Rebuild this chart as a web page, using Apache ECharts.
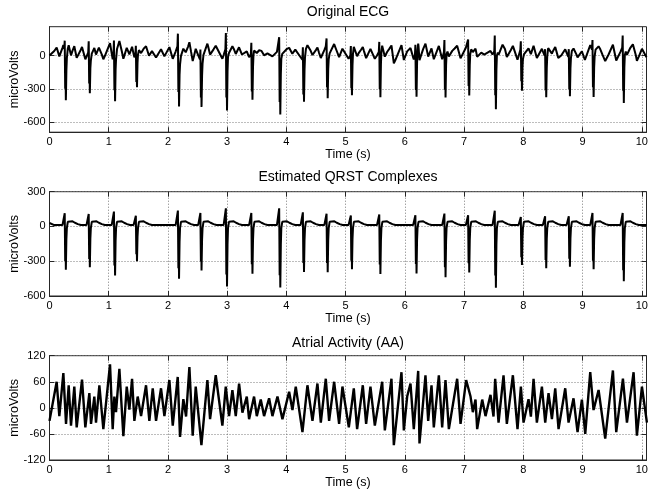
<!DOCTYPE html>
<html><head><meta charset="utf-8">
<script src="https://cdn.jsdelivr.net/npm/echarts@6/dist/echarts.min.js"></script>
<style>html,body{margin:0;padding:0;background:#fff}#c{width:648px;height:495px}</style>
</head><body><div id="c"></div>
<script>
// ---- data ----
const titles = ['Original ECG', 'Estimated QRST Complexes', 'Atrial Activity (AA)'];
const xTicks = [0,1,2,3,4,5,6,7,8,9,10];
const ecgTicks = [-600,-300,0];
const qrstTicks = [-600,-300,0,300];
const aaTicks = [-120,-60,0,60,120];

// QRST complexes: beat times (s), R peak and S trough (microVolts)
const beatTimes = [0.279,0.684,1.11,1.48,2.19,2.57,3.0,3.43,3.90,4.30,4.70,5.11,5.59,6.20,6.69,7.09,7.54,7.98,8.39,8.79,9.19,9.70];
const beatR = [114,108,128,93,137,117,157,117,157,122,110,94,103,97,111,97,136,81,89,89,117,117];
const beatS = [-373,-352,-422,-300,-451,-379,-518,-408,-527,-393,-395,-369,-411,-406,-439,-397,-528,-333,-361,-347,-369,-472];
const qrstBase = 12;
// beat shape: offset (s) and kind of value
const shapeOffsets = [-0.06,-0.03,-0.022,-0.014,-0.008,-0.003,0.006,0.014,0.03,0.11,0.15,0.2,0.25];
const shapeKinds   = ['b','b+6','R','0.8S','0.35S','S','0.3S','-15','b+28','b+32','b+20','b+8','b'];

// Atrial activity: extrema times (s) and values (microVolts)
const aaTimes = [0.00,0.121,0.166,0.234,0.279,0.324,0.363,0.419,0.459,0.549,0.605,0.673,0.701,0.757,0.785,0.842,0.909,1.022,1.067,1.095,1.123,1.180,1.247,1.304,1.349,1.394,1.433,1.489,1.546,1.630,1.686,1.743,1.799,1.883,1.940,2.024,2.081,2.165,2.204,2.26,2.306,2.362,2.418,
2.469,2.565,2.666,2.711,2.807,2.919,2.976,3.032,3.088,3.145,3.201,3.257,3.331,3.370,3.454,3.500,3.567,3.623,3.708,3.764,3.849,3.933,4.046,4.102,4.158,4.271,4.355,4.440,4.524,4.581,4.665,4.721,4.806,4.890,4.946,
5.054,5.138,5.194,5.290,5.346,5.419,5.493,5.617,5.662,5.774,5.814,5.943,5.983,6.039,6.095,6.151,6.225,6.247,6.348,6.394,6.450,6.489,6.574,6.630,6.686,6.743,6.883,6.940,7.035,7.109,7.148,7.193,7.221,7.306,7.362,7.446,
7.497,7.525,7.582,7.666,7.722,7.824,7.902,7.959,8.004,8.088,8.128,8.173,8.229,8.314,8.370,8.426,8.483,8.539,8.595,8.708,8.764,8.848,8.916,8.989,9.046,9.130,9.186,9.271,9.383,9.513,9.569,9.682,9.750,9.862,9.918,10.003,10.087];
const aaValues = [-30,60,-19,80,-37,52,-41,49,-45,65,-45,34,-37,26,-34,52,-49,100,-49,26,-10,90,-65,49,-4,67,-30,26,-19,52,-30,45,-30,45,-19,64,-41,71,-67,20,-20,94,-64,
49,-86,64,-26,75,-41,49,-19,41,-19,56,-11,26,-26,26,-19,19,-19,22,-19,26,-26,37,-5,49,-56,52,-30,56,-34,67,-30,60,-37,49,
-45,45,-49,52,-37,49,-41,60,-52,67,-86,82,-52,26,56,-49,85,-82,75,-30,52,-45,75,-45,64,-49,67,-37,64,26,-10,19,-49,19,-19,30,
-20,67,-34,75,-37,75,-49,49,-34,20,-20,67,-34,49,-34,34,-26,45,-49,45,-34,22,-56,19,-60,82,-5,41,-71,86,-56,67,-34,82,-64,49,-34];

const xMax = 10.08;

// ---- build series ----
function shapeValue(kind, b, R, S) {
  if (kind === 'b') return b;
  if (kind.startsWith('b+')) return b + Number(kind.slice(2));
  if (kind === 'R') return R;
  if (kind.endsWith('S')) return (kind === 'S' ? 1 : Number(kind.slice(0, -1))) * S;
  return Number(kind);
}
const qrst = [[0, qrstBase + 18], [0.08, qrstBase]];
beatTimes.forEach((t0, i) => {
  shapeOffsets.forEach((dt, k) => {
    qrst.push([+(t0 + dt).toFixed(4), shapeValue(shapeKinds[k], qrstBase, beatR[i], beatS[i])]);
  });
});
qrst.push([xMax, qrstBase]);
const aa = aaTimes.map((t, i) => [t, aaValues[i]]);

function valueAt(pts, t) {
  if (t <= pts[0][0]) return pts[0][1];
  for (let i = 1; i < pts.length; i++) {
    if (t <= pts[i][0]) {
      const [t0, v0] = pts[i-1], [t1, v1] = pts[i];
      return t1 === t0 ? v1 : v0 + (v1 - v0) * (t - t0) / (t1 - t0);
    }
  }
  return pts[pts.length-1][1];
}
// Original ECG = QRST + AA
const allT = Array.from(new Set(qrst.map(p => p[0]).concat(aaTimes))).filter(t => t <= xMax).sort((a, b) => a - b);
const ecg = allT.map(t => [t, valueAt(qrst, t) + valueAt(aa, t)]);

// ---- chart ----
const FONT = 'Liberation Sans, Arial, sans-serif';
const plotLeft = 49.5, plotW = 597;
const grids = [
  {left: plotLeft, top: 26.7, width: plotW, height: 105.5},
  {left: plotLeft, top: 191.7, width: plotW, height: 104.3},
  {left: plotLeft, top: 355.7, width: plotW, height: 104.3}
].map(g => Object.assign(g, {show: true, borderColor: '#262626', borderWidth: 1, containLabel: false, outerBoundsMode: 'none'}));
const yRanges = [[-690, 260, ecgTicks], [-600, 300, qrstTicks], [-120, 120, aaTicks]];
const gridLine = {show: true, lineStyle: {color: '#7a7a7a', type: [1, 2], width: 1}};

const xAxes = [], yAxes = [];
for (let g = 0; g < 3; g++) {
  xAxes.push({
    type: 'value', gridIndex: g, min: 0, max: xMax,
    name: 'Time (s)', nameLocation: 'middle', nameGap: 16, nameMoveOverlap: false,
    nameTextStyle: {fontFamily: FONT, fontSize: 12.5, color: '#000'},
    axisLine: {show: true, onZero: false, lineStyle: {color: '#262626'}},
    axisTick: {show: true, inside: true, length: 5, customValues: xTicks, lineStyle: {color: '#262626'}},
    axisLabel: {customValues: xTicks, fontFamily: FONT, fontSize: 11, color: '#000', margin: 4},
    splitLine: gridLine
  });
  xAxes.push({
    type: 'value', gridIndex: g, min: 0, max: xMax, position: 'top',
    axisLine: {show: false, onZero: false},
    axisTick: {show: true, inside: true, length: 5, customValues: xTicks, lineStyle: {color: '#262626'}},
    axisLabel: {show: false}, splitLine: {show: false}
  });
  const [mn, mx, tk] = yRanges[g];
  yAxes.push({
    type: 'value', gridIndex: g, min: mn, max: mx,
    name: 'microVolts', nameLocation: 'middle', nameGap: 28, nameMoveOverlap: false,
    nameTextStyle: {fontFamily: FONT, fontSize: 12.5, color: '#000'},
    axisLine: {show: true, onZero: false, lineStyle: {color: '#262626'}},
    axisTick: {show: true, inside: true, length: 5, customValues: tk, lineStyle: {color: '#262626'}},
    axisLabel: {customValues: tk, fontFamily: FONT, fontSize: 11, color: '#000', margin: 4},
    splitLine: gridLine
  });
  yAxes.push({
    type: 'value', gridIndex: g, min: mn, max: mx, position: 'right',
    axisLine: {show: false, onZero: false},
    axisTick: {show: true, inside: true, length: 5, customValues: tk, lineStyle: {color: '#262626'}},
    axisLabel: {show: false}, splitLine: {show: false}
  });
}

const datasets = [ecg, qrst, aa];
const series = datasets.map((d, g) => ({
  type: 'line', xAxisIndex: g * 2, yAxisIndex: g * 2, data: d,
  showSymbol: false, symbol: 'none', sampling: 'none', clip: true,
  lineStyle: {color: '#000', width: g === 2 ? 2.4 : 2}
}));

const titleTops = [5, 170, 336];
const chart = echarts.init(document.getElementById('c'), null, {renderer: 'canvas'});
chart.setOption({
  animation: false,
  backgroundColor: '#fff',
  title: titles.map((t, i) => ({
    text: t, left: plotLeft + plotW / 2, top: titleTops[i], textAlign: 'center', padding: 0,
    textStyle: {fontFamily: FONT, fontSize: 14, fontWeight: 'normal', color: '#000'}
  })),
  grid: grids,
  xAxis: xAxes,
  yAxis: yAxes,
  series: series
});
</script>
</body></html>
